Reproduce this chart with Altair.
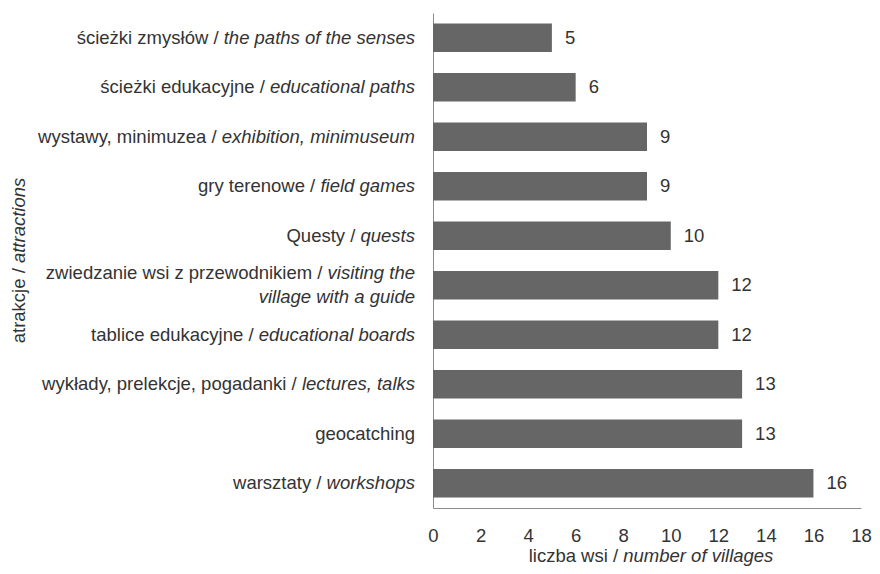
import altair as alt
import pandas as pd

# ---- data ----
categories_pl = [
    "ścieżki zmysłów", "ścieżki edukacyjne", "wystawy, minimuzea", "gry terenowe",
    "Questy", "zwiedzanie wsi z przewodnikiem", "tablice edukacyjne",
    "wykłady, prelekcje, pogadanki", "geocatching", "warsztaty",
]
categories_en = [
    "the paths of the senses", "educational paths", "exhibition, minimuseum", "field games",
    "quests", "visiting the\nvillage with a guide", "educational boards",
    "lectures, talks", "", "workshops",
]
values = [5, 6, 9, 9, 10, 12, 12, 13, 13, 16]
x_ticks = [0, 2, 4, 6, 8, 10, 12, 14, 16, 18]
x_title_pl, x_title_en = "liczba wsi /", "number of villages"
y_title_pl, y_title_en = "atrakcje /", "attractions"

# ---- layout / style ----
FONT = "Liberation Sans"
FS = 18.5
TXT = "#333333"
BAR = "#666666"
AXC = "#8c8c8c"
PAD_L, PAD_T, PAD_R, PAD_B = 425, 5, 11, 58
W, H = 428, 495
XMAX = 18
PXU = W / XMAX  # pixels per data unit

# Helvetica/Arial advance widths (1/1000 em) – Liberation Sans shares them
_w = {" ": 278, ",": 278, ".": 278, "/": 278, "Q": 778,
      "a": 556, "b": 556, "c": 500, "d": 556, "e": 556, "f": 278, "g": 556, "h": 556,
      "i": 222, "j": 222, "k": 500, "l": 222, "m": 833, "n": 556, "o": 556, "p": 556,
      "q": 556, "r": 333, "s": 500, "t": 278, "u": 556, "v": 500, "w": 722, "x": 500,
      "y": 500, "z": 500, "ś": 500, "ż": 500, "ł": 222, "ó": 556}


def tw(s):
    return sum(_w.get(c, 556) for c in s) * FS / 1000.0


RIGHT = -18  # right edge of category labels (px from plot left)

bars_df = pd.DataFrame({"cat": categories_pl, "val": values})

pieces = []
for pl, en in zip(categories_pl, categories_en):
    if not en:
        pieces.append(dict(cat=pl, text=pl, style="normal", dy=0, xd=RIGHT / PXU))
        continue
    lines = en.split("\n")
    offs = [0] if len(lines) == 1 else [-12, 12]
    pieces.append(dict(cat=pl, text=lines[0], style="italic", dy=offs[0], xd=RIGHT / PXU))
    pieces.append(dict(cat=pl, text=pl + " /", style="normal", dy=offs[0],
                       xd=(RIGHT - tw(lines[0]) - tw(" ")) / PXU))
    for ln, o in zip(lines[1:], offs[1:]):
        pieces.append(dict(cat=pl, text=ln, style="italic", dy=o, xd=RIGHT / PXU))
pieces_df = pd.DataFrame(pieces)

yscale = alt.Scale(domain=categories_pl, paddingInner=0.42, paddingOuter=0.21)
xscale = alt.Scale(domain=[0, XMAX], nice=False, zero=True)
yaxis = alt.Axis(labels=False, ticks=False, title=None, grid=False,
                 domainColor=AXC, domainWidth=1)
xaxis = alt.Axis(values=x_ticks, ticks=False, grid=False, title=None,
                 labelFont=FONT, labelFontSize=FS, labelColor=TXT, labelFlush=False,
                 labelPadding=18, domainColor=AXC, domainWidth=1)

base = alt.Chart(bars_df)

bars = base.mark_bar(color=BAR).encode(
    y=alt.Y("cat:N", scale=yscale, sort=categories_pl, axis=yaxis),
    x=alt.X("val:Q", scale=xscale, axis=xaxis),
)

vals = base.mark_text(align="left", baseline="middle", dx=13, font=FONT,
                      fontSize=FS, color=TXT).encode(
    y=alt.Y("cat:N", scale=yscale, sort=categories_pl, axis=yaxis),
    x=alt.X("val:Q", scale=xscale, axis=xaxis),
    text="val:Q",
)

layers = [bars, vals]
for (style, dy), _ in pieces_df.groupby(["style", "dy"]):
    sub = pieces_df[(pieces_df["style"] == style) & (pieces_df["dy"] == dy)]
    layers.append(
        alt.Chart(sub).mark_text(align="right", baseline="middle", dy=int(dy), font=FONT,
                                 fontSize=FS, fontStyle=style, color=TXT).encode(
            y=alt.Y("cat:N", scale=yscale, sort=categories_pl, axis=yaxis),
            x=alt.X("xd:Q", scale=xscale, axis=xaxis),
            text="text:N",
        )
    )

# x-axis title (mixed styles)
XT_Y = 549  # alphabetic baseline, px from plot top
XT_CX = 218
xt_total = tw(x_title_pl) + tw(" ") + tw(x_title_en)
xt_left = XT_CX - xt_total / 2
layers.append(alt.Chart(pd.DataFrame({"t": [x_title_pl]})).mark_text(
    align="left", baseline="alphabetic", font=FONT, fontSize=FS, color=TXT).encode(
    x=alt.value(xt_left), y=alt.value(XT_Y), text="t:N"))
layers.append(alt.Chart(pd.DataFrame({"t": [x_title_en]})).mark_text(
    align="left", baseline="alphabetic", font=FONT, fontSize=FS, fontStyle="italic",
    color=TXT).encode(
    x=alt.value(xt_left + tw(x_title_pl) + tw(" ")), y=alt.value(XT_Y), text="t:N"))

# y-axis title (rotated, mixed styles)
YT_X = -414
yt_total = tw(y_title_pl) + tw(" ") + tw(y_title_en)
yt_bottom = H / 2 + yt_total / 2
layers.append(alt.Chart(pd.DataFrame({"t": [y_title_pl]})).mark_text(
    align="left", baseline="middle", angle=270, font=FONT, fontSize=FS,
    color=TXT).encode(x=alt.value(YT_X), y=alt.value(yt_bottom), text="t:N"))
layers.append(alt.Chart(pd.DataFrame({"t": [y_title_en]})).mark_text(
    align="left", baseline="middle", angle=270, font=FONT, fontSize=FS,
    fontStyle="italic", color=TXT).encode(
    x=alt.value(YT_X), y=alt.value(yt_bottom - tw(y_title_pl) - tw(" ")), text="t:N"))

chart = alt.layer(*layers).properties(
    width=W, height=H,
    autosize=alt.AutoSizeParams(type="none"),
    padding={"left": PAD_L, "top": PAD_T, "right": PAD_R, "bottom": PAD_B},
).configure(background="white").configure_view(stroke=None)

chart.save("out.html", embed_options={"renderer": "svg", "actions": False})
